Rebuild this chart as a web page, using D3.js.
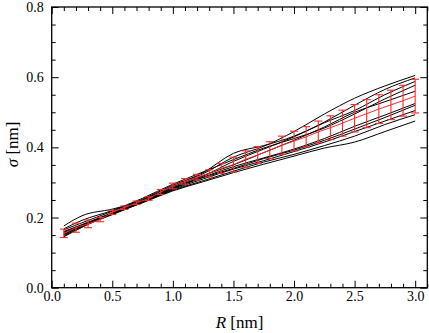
<!DOCTYPE html>
<html>
<head>
<meta charset="utf-8">
<script src="https://cdn.jsdelivr.net/npm/d3@7"></script>
<style>
  body { margin: 0; background: #fff; }
  svg { display: block; }
  svg text { font-family: "Liberation Serif", "Times New Roman", Times, "DejaVu Serif", serif; fill: #000; }
</style>
</head>
<body>
<svg width="429" height="333"></svg>
<script>
// sampling points of the individual (black) curves
const curveR = [0.1, 0.25, 0.5, 0.75, 1.0, 1.25, 1.5, 1.75, 2.0, 2.25, 2.5, 2.75, 3.0];
const curves = [
    [0.165, 0.185, 0.218, 0.252, 0.292, 0.325, 0.372, 0.403, 0.445, 0.495, 0.540, 0.575, 0.605],
    [0.160, 0.180, 0.214, 0.250, 0.290, 0.328, 0.383, 0.405, 0.432, 0.472, 0.520, 0.565, 0.598],
    [0.176, 0.205, 0.224, 0.248, 0.285, 0.318, 0.360, 0.395, 0.430, 0.470, 0.505, 0.550, 0.588],
    [0.168, 0.192, 0.220, 0.255, 0.295, 0.330, 0.365, 0.398, 0.425, 0.455, 0.495, 0.538, 0.577],
    [0.158, 0.178, 0.212, 0.248, 0.288, 0.320, 0.350, 0.385, 0.420, 0.458, 0.500, 0.530, 0.560],
    [0.145, 0.172, 0.210, 0.245, 0.282, 0.315, 0.345, 0.370, 0.395, 0.425, 0.460, 0.492, 0.525],
    [0.147, 0.174, 0.212, 0.246, 0.284, 0.314, 0.340, 0.368, 0.392, 0.420, 0.452, 0.485, 0.520],
    [0.152, 0.175, 0.208, 0.243, 0.280, 0.310, 0.338, 0.362, 0.388, 0.415, 0.445, 0.475, 0.505],
    [0.150, 0.176, 0.210, 0.244, 0.278, 0.305, 0.332, 0.358, 0.380, 0.405, 0.432, 0.465, 0.493],
    [0.155, 0.177, 0.211, 0.242, 0.276, 0.302, 0.328, 0.352, 0.375, 0.398, 0.415, 0.445, 0.475]
];

// average curve with error bars (red)
const meanR = [0.1, 0.2, 0.3, 0.4, 0.5, 0.6, 0.7, 0.8, 0.9, 1.0, 1.1, 1.2, 1.3, 1.4, 1.5,
               1.6, 1.7, 1.8, 1.9, 2.0, 2.1, 2.2, 2.3, 2.4, 2.5, 2.6, 2.7, 2.8, 2.9, 3.0];
const meanSigma = [0.155, 0.171, 0.182, 0.194, 0.215, 0.228, 0.242, 0.254, 0.273, 0.290,
                   0.303, 0.315, 0.326, 0.340, 0.351, 0.366, 0.378, 0.392, 0.406, 0.418,
                   0.430, 0.444, 0.456, 0.469, 0.483, 0.496, 0.509, 0.521, 0.533, 0.546];
const errSigma = [0.012, 0.013, 0.011, 0.006, 0.006, 0.005, 0.005, 0.005, 0.007, 0.008,
                  0.008, 0.008, 0.010, 0.014, 0.021, 0.024, 0.024, 0.024, 0.026, 0.028,
                  0.029, 0.031, 0.034, 0.037, 0.039, 0.040, 0.041, 0.042, 0.044, 0.048];

const xTicks = [0.0, 0.5, 1.0, 1.5, 2.0, 2.5, 3.0];
const yTicks = [0.0, 0.2, 0.4, 0.6, 0.8];

const svg = d3.select("svg");
const mLeft = 51.7, mRight = 427.3, mTop = 7, mBottom = 287.7;

const x = d3.scaleLinear().domain([0, 3.1]).range([mLeft, mRight]);
const y = d3.scaleLinear().domain([0, 0.8]).range([mBottom, mTop]);

// black curves
const line = d3.line()
    .x(d => x(d[0]))
    .y(d => y(d[1]))
    .curve(d3.curveMonotoneX);

svg.append("g")
    .selectAll("path")
    .data(curves)
    .join("path")
    .attr("d", c => line(c.map((v, i) => [curveR[i], v])))
    .attr("fill", "none")
    .attr("stroke", "#000")
    .attr("stroke-width", 1);

// red mean + error bars
const red = "#ff2a2a";
const meanData = meanR.map((r, i) => ({ r: r, m: meanSigma[i], e: errSigma[i] }));

svg.append("path")
    .datum(meanData)
    .attr("d", d3.line().x(d => x(d.r)).y(d => y(d.m)))
    .attr("fill", "none")
    .attr("stroke", red)
    .attr("stroke-width", 1);

const bars = svg.append("g").attr("stroke", red).attr("stroke-width", 1.1);
bars.selectAll(".v").data(meanData).join("line")
    .attr("x1", d => x(d.r)).attr("x2", d => x(d.r))
    .attr("y1", d => y(d.m - d.e)).attr("y2", d => y(d.m + d.e));
bars.selectAll(".t").data(meanData).join("line")
    .attr("x1", d => x(d.r) - 4).attr("x2", d => x(d.r) + 4)
    .attr("y1", d => y(d.m + d.e)).attr("y2", d => y(d.m + d.e));
bars.selectAll(".b").data(meanData).join("line")
    .attr("x1", d => x(d.r) - 4).attr("x2", d => x(d.r) + 4)
    .attr("y1", d => y(d.m - d.e)).attr("y2", d => y(d.m - d.e));

// axes: ticks inward on all four sides
const xMinor = d3.range(0, 3.1001, 0.1).filter(v => Math.abs(v * 2 - Math.round(v * 2)) > 1e-6);
const yMinor = d3.range(0, 0.8001, 0.05).filter(v => Math.abs(v * 5 - Math.round(v * 5)) > 1e-6);

function styleAxis(g) {
    g.select(".domain").remove();
    g.attr("font-family", null);
    g.selectAll(".tick line").attr("stroke", "#000").attr("stroke-width", 1);
}

svg.append("g").attr("transform", `translate(0,${mBottom})`)
    .call(d3.axisBottom(x).tickValues(xTicks).tickSizeInner(-7).tickSizeOuter(0)
        .tickPadding(3).tickFormat(d3.format(".1f")))
    .call(styleAxis)
    .call(g => g.selectAll("text").attr("font-size", 14));
svg.append("g").attr("transform", `translate(0,${mBottom})`)
    .call(d3.axisBottom(x).tickValues(xMinor).tickSizeInner(-4).tickSizeOuter(0).tickFormat(""))
    .call(styleAxis);
svg.append("g").attr("transform", `translate(0,${mTop})`)
    .call(d3.axisTop(x).tickValues(xTicks).tickSizeInner(-7).tickSizeOuter(0).tickFormat(""))
    .call(styleAxis);
svg.append("g").attr("transform", `translate(0,${mTop})`)
    .call(d3.axisTop(x).tickValues(xMinor).tickSizeInner(-4).tickSizeOuter(0).tickFormat(""))
    .call(styleAxis);

svg.append("g").attr("transform", `translate(${mLeft},0)`)
    .call(d3.axisLeft(y).tickValues(yTicks).tickSizeInner(-7).tickSizeOuter(0)
        .tickPadding(8).tickFormat(d3.format(".1f")))
    .call(styleAxis)
    .call(g => g.selectAll("text").attr("font-size", 14));
svg.append("g").attr("transform", `translate(${mLeft},0)`)
    .call(d3.axisLeft(y).tickValues(yMinor).tickSizeInner(-4).tickSizeOuter(0).tickFormat(""))
    .call(styleAxis);
svg.append("g").attr("transform", `translate(${mRight},0)`)
    .call(d3.axisRight(y).tickValues(yTicks).tickSizeInner(-7).tickSizeOuter(0).tickFormat(""))
    .call(styleAxis);
svg.append("g").attr("transform", `translate(${mRight},0)`)
    .call(d3.axisRight(y).tickValues(yMinor).tickSizeInner(-4).tickSizeOuter(0).tickFormat(""))
    .call(styleAxis);

// frame
svg.append("rect")
    .attr("x", mLeft).attr("y", mTop)
    .attr("width", mRight - mLeft).attr("height", mBottom - mTop)
    .attr("fill", "none").attr("stroke", "#000").attr("stroke-width", 1.3);

// axis titles
const xt = svg.append("text")
    .attr("x", (mLeft + mRight) / 2).attr("y", 328)
    .attr("text-anchor", "middle").attr("font-size", 17);
xt.append("tspan").attr("font-style", "italic").text("R");
xt.append("tspan").text(" [nm]");

const yt = svg.append("text")
    .attr("transform", `translate(18,${(mTop + mBottom) / 2 - 3}) rotate(-90)`)
    .attr("text-anchor", "middle").attr("font-size", 17);
yt.append("tspan").attr("font-style", "italic").text("σ");
yt.append("tspan").text(" [nm]");
</script>
</body>
</html>
